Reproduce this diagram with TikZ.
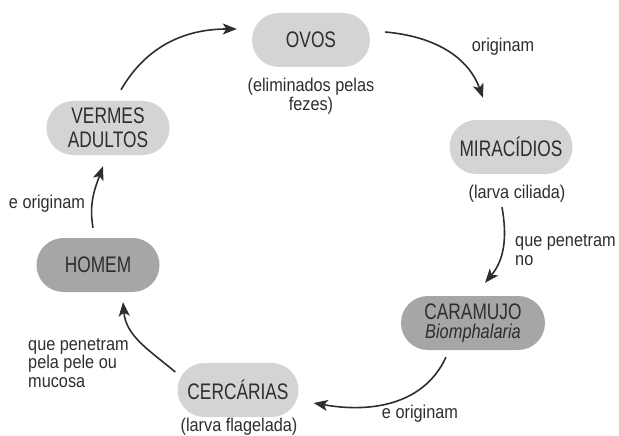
\documentclass[tikz,border=0pt]{standalone}
\usepackage{fontspec}
\setmainfont{Liberation Sans}[FakeStretch=0.77]
\newfontfamily\smallf{Liberation Sans}[FakeStretch=0.88]
\newfontfamily\biof{Liberation Sans}[FakeStretch=0.82]
\usetikzlibrary{arrows.meta}
\definecolor{lightbox}{HTML}{D4D4D4}
\definecolor{darkbox}{HTML}{A6A6A6}
\definecolor{ink}{HTML}{2E2E2E}
\tikzset{
  pill/.style={rectangle, rounded corners=26.9pt, minimum height=54pt, inner sep=0pt,
    text=ink, align=center, font=\fontsize{22.5}{23.5}\selectfont},
  lightpill/.style={pill, fill=lightbox},
  darkpill/.style={pill, fill=darkbox},
  lbl/.style={text=ink, inner sep=0pt, font=\smallf\fontsize{18.5}{18.5}\selectfont},
  arr/.style={draw=ink, line width=1.6pt, -{Stealth[length=14pt,width=11pt,inset=3.5pt]}}
}
\begin{document}
\begin{tikzpicture}
\useasboundingbox (0,0) rectangle (619pt,-436pt);
\begin{scope}[x=1pt,y=1pt]
\node[lightpill, minimum width=118pt] (ovos) at (311,-40) {OVOS};
\node[lightpill, minimum width=123pt] (mir) at (511,-147) {MIRACÍDIOS};
\node[darkpill, minimum width=144pt] (car) at (473,-323) {CARAMUJO\\[-4pt]{\biof\itshape\fontsize{20}{20}\selectfont Biomphalaria}};
\node[lightpill, minimum width=121pt] (cer) at (238,-390) {CERCÁRIAS};
\node[darkpill, minimum width=123pt] (homem) at (98,-265) {HOMEM};
\node[lightpill, minimum width=123pt] (vermes) at (108,-128) {VERMES\\ADULTOS};

\node[lbl, align=center] (ovosl) at (311,-96) {(eliminados pelas\\fezes)};
\node[lbl] (mirl) at (517,-194) {(larva ciliada)};
\node[lbl] (cerl) at (239,-427) {(larva flagelada)};
\node[lbl] (l1) at (503,-47) {originam};
\node[lbl, align=left, anchor=west] (l2) at (515,-250) {que penetram\\no};
\node[lbl] (l3) at (420,-414) {e originam};
\node[lbl, align=left, anchor=west] (l4) at (28,-363) {que penetram\\pela pele ou\\mucosa};
\node[lbl] (l5) at (47,-204) {e originam};

\draw[arr] ([shift={(15,8)}]ovos.east) to[out=-5,in=110] ([shift={(-28,22)}]mir.north);
\draw[arr] ([shift={(-9,-33)}]mir.south) to[out=-80,in=50] ([shift={(12,13)}]car.north);
\draw[arr] ([shift={(-27,-7)}]car.south) to[out=-115,in=-10] ([shift={(15,-13)}]cer.east);
\draw[arr] ([shift={(-2,18)}]cer.west) to[out=140,in=-85] ([shift={(25,-10)}]homem.south);
\draw[arr] ([shift={(-5,10)}]homem.north) to[out=100,in=-110] ([shift={(-5,-11)}]vermes.south);
\draw[arr] ([shift={(13,11)}]vermes.north) to[out=60,in=180] ([shift={(-15,11)}]ovos.west);
\end{scope}
\end{tikzpicture}
\end{document}
